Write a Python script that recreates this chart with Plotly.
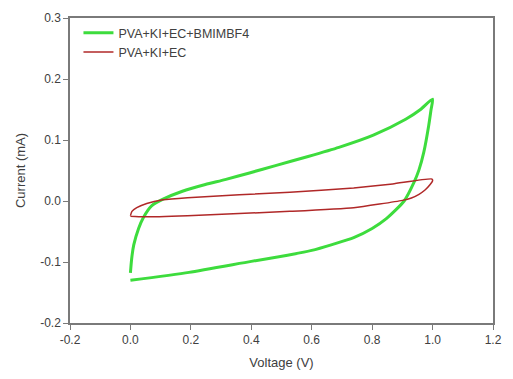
import plotly.graph_objects as go

# Green: PVA+KI+EC+BMIMBF4 (forward then reverse scan)
green_v = [0.0, 0.004, 0.011, 0.027, 0.043, 0.070, 0.108, 0.172, 0.248, 0.313, 0.394, 0.48, 0.588, 0.69, 0.804, 0.911, 0.96, 1.0,
           0.995, 0.987, 0.971, 0.955, 0.938, 0.906, 0.847, 0.8, 0.739, 0.67, 0.6, 0.52, 0.4, 0.194, 0.0]
green_i = [-0.118, -0.095, -0.072, -0.045, -0.027, -0.008, 0.003, 0.016, 0.027, 0.035, 0.046, 0.058, 0.073, 0.088, 0.108, 0.134, 0.150, 0.167,
           0.150, 0.123, 0.080, 0.051, 0.030, 0.0, -0.029, -0.045, -0.060, -0.071, -0.081, -0.089, -0.099, -0.117, -0.130]

# Red: PVA+KI+EC
red_v = [0.0, 0.005, 0.021, 0.054, 0.108, 0.189, 0.528, 0.739, 0.868, 0.998,
         1.0, 0.992, 0.975, 0.955, 0.93, 0.9, 0.739, 0.528, 0.189, 0.043, 0.0]
red_i = [-0.024, -0.017, -0.011, -0.004, 0.002, 0.0055, 0.0145, 0.0215, 0.028, 0.036,
         0.033, 0.027, 0.018, 0.011, 0.005, 0.001, -0.011, -0.017, -0.024, -0.026, -0.025]

names = ["PVA+KI+EC+BMIMBF4", "PVA+KI+EC"]

x_ticks = [-0.2, 0.0, 0.2, 0.4, 0.6, 0.8, 1.0, 1.2]
y_ticks = [-0.2, -0.1, 0.0, 0.1, 0.2, 0.3]

fig = go.Figure()
fig.add_trace(go.Scatter(x=green_v, y=green_i, mode="lines", name=names[0],
                         line=dict(color="#3ddc3d", width=3, shape="spline", smoothing=0.6)))
fig.add_trace(go.Scatter(x=red_v, y=red_i, mode="lines", name=names[1],
                         line=dict(color="#b02828", width=1.5, shape="spline", smoothing=0.5)))

axis_common = dict(showgrid=False, zeroline=False, showline=True, linecolor="#7a7a7a", linewidth=1.5,
                   mirror=True, ticks="outside", ticklen=5, tickcolor="#7a7a7a", tickwidth=1,
                   tickfont=dict(family="Liberation Sans, Arial", size=12, color="#404040"))

fig.update_xaxes(range=[-0.2, 1.2], tickvals=x_ticks, ticktext=[f"{v:.1f}" for v in x_ticks],
                 title=dict(text="Voltage (V)", font=dict(family="Liberation Sans, Arial", size=13, color="#404040"), standoff=12),
                 **axis_common)
fig.update_yaxes(range=[-0.2, 0.3], tickvals=y_ticks, ticktext=[f"{v:.1f}" for v in y_ticks],
                 title=dict(text="Current (mA)", font=dict(family="Liberation Sans, Arial", size=13, color="#404040"), standoff=12),
                 **axis_common)

fig.update_layout(
    width=513, height=379,
    margin=dict(l=70, r=11, t=15, b=53),
    plot_bgcolor="white", paper_bgcolor="white",
    showlegend=True,
    legend=dict(x=0.02, y=1.0, xanchor="left", yanchor="top", bgcolor="rgba(0,0,0,0)",
                font=dict(family="Liberation Sans, Arial", size=12.5, color="#404040"),
                tracegroupgap=0, itemwidth=30),
)

fig.write_html("out.html")
